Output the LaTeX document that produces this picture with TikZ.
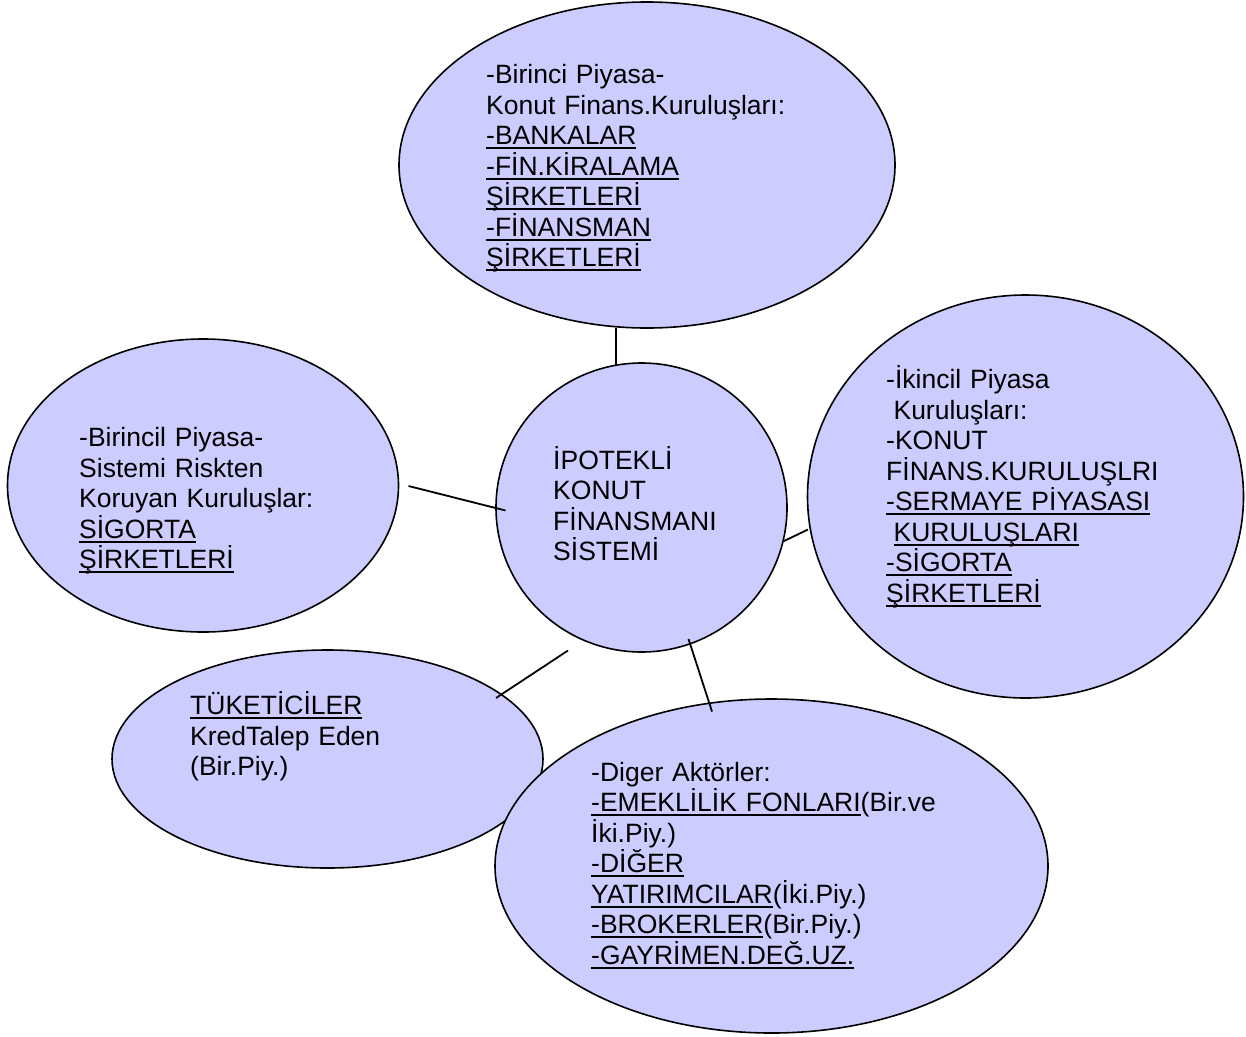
\documentclass[tikz,border=0pt]{standalone}
\usepackage{fontspec}
\setmainfont{Liberation Sans}
\usetikzlibrary{shapes.geometric}
\definecolor{bubblefill}{RGB}{204,204,255}
% underline sitting just below the baseline, crossing any cedilla
\newcommand\uln[1]{\leavevmode\setbox0\hbox{#1}\rlap{\rule[-4.5pt]{\wd0}{1.9pt}}\box0}
\newcommand\lead{\leavevmode\hspace*{.278em}}
\begin{document}
\begin{tikzpicture}[x=1pt,y=-1pt,
  bubble/.style={ellipse, draw=black, line width=1.6pt, fill=bubblefill, inner sep=0pt},
  lbl/.style={anchor=base west, inner sep=0pt, text width=420pt, align=left,
    font=\fontsize{26.5}{30.5}\selectfont},
  link/.style={draw=black, line width=1.8pt}]
\path[use as bounding box] (0,0) rectangle (1246,1036);

% bubbles
\node[bubble, minimum width=391pt, minimum height=293pt] (risk) at (203,485.5) {};
\node[bubble, minimum width=496pt, minimum height=326pt] (birinci) at (647,165) {};
\node[bubble, minimum width=291pt, minimum height=289pt] (sistem) at (641.5,507.5) {};
\node[bubble, minimum width=436pt, minimum height=403pt] (ikincil) at (1025.5,496.5) {};
\node[bubble, minimum width=431pt, minimum height=218pt] (tuketici) at (327.5,759) {};
\node[bubble, minimum width=553pt, minimum height=334pt] (diger) at (771.5,866) {};

% texts
\node[lbl] (tBirinci) at (486,83.5) {-Birinci Piyasa-\\
Konut Finans.Kuruluşları:\\
\uln{-BANKALAR}\\
\uln{-FİN.KİRALAMA}\\
\uln{ŞİRKETLERİ}\\
\uln{-FİNANSMAN}\\
\uln{ŞİRKETLERİ}};

\node[lbl] (tRisk) at (79,446.5) {-Birincil Piyasa-\\
Sistemi Riskten\\
Koruyan Kuruluşlar:\\
\uln{SİGORTA}\\
\uln{ŞİRKETLERİ}};

\node[lbl] (tSistem) at (553,469) {İPOTEKLİ\\
KONUT\\
FİNANSMANI\\
SİSTEMİ};

\node[lbl] (tIkincil) at (886,388.5) {-İkincil Piyasa\\
\lead Kuruluşları:\\
-KONUT\\
FİNANS.KURULUŞLRI\\
\uln{-SERMAYE PİYASASI}\\
\lead\uln{KURULUŞLARI}\\
\uln{-SİGORTA}\\
\uln{ŞİRKETLERİ}};

\node[lbl] (tTuketici) at (190,714.5) {\uln{TÜKETİCİLER}\\
KredTalep Eden\\
(Bir.Piy.)};

\node[lbl] (tDiger) at (591,781) {-Diger Aktörler:\\
\uln{-EMEKLİLİK FONLARI}(Bir.ve\\
İki.Piy.)\\
\uln{-DİĞER}\\
\uln{YATIRIMCILAR}(İki.Piy.)\\
\uln{-BROKERLER}(Bir.Piy.)\\
\uln{-GAYRİMEN.DEĞ.UZ.}};

% connector end points
\coordinate (pTopA) at (616,328);
\coordinate (pTopB) at (616,364.5);
\coordinate (pLeftA) at (408.5,486);
\coordinate (pLeftB) at (505.5,510.5);
\coordinate (pRightA) at (784,541);
\coordinate (pRightB) at (808,529.5);
\coordinate (pTukA) at (568,650.5);
\coordinate (pTukB) at (496,698);
\coordinate (pDigA) at (688.5,639);
\coordinate (pDigB) at (712,711.5);

% connectors
\draw[link] (pTopA) -- (pTopB);
\draw[link] (pLeftA) -- (pLeftB);
\draw[link] (pRightA) -- (pRightB);
\draw[link] (pTukA) -- (pTukB);
\draw[link] (pDigA) -- (pDigB);
\end{tikzpicture}
\end{document}
